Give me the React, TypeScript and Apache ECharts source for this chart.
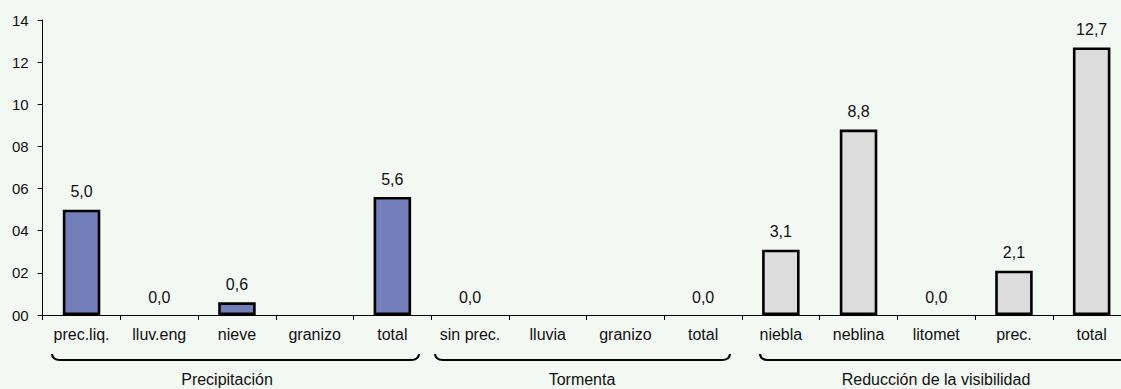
import React, { useEffect, useRef } from "react";
import * as echarts from "echarts";

const categories = [
  "prec.liq.", "lluv.eng", "nieve", "granizo", "total",
  "sin prec.", "lluvia", "granizo", "total",
  "niebla", "neblina", "litomet", "prec.", "total",
];
// null = no value shown
const values: (number | null)[] = [
  5.0, 0.0, 0.6, null, 5.6,
  0.0, null, null, 0.0,
  3.1, 8.8, 0.0, 2.1, 12.7,
];
const groupOfCategory = [0, 0, 0, 0, 0, 1, 1, 1, 1, 2, 2, 2, 2, 2];
const groupNames = ["Precipitación", "Tormenta", "Reducción de la visibilidad"];
const groupColors = ["#737FBB", "#737FBB", "#DCDCDC"];
const yTicks = [0, 2, 4, 6, 8, 10, 12, 14];

const FONT = "'Liberation Sans', Arial, sans-serif";
const TEXT = "#111111";

function brace(x1: number, x2: number, y: number, curl: number) {
  return {
    type: "group",
    silent: true,
    children: [
      {
        type: "bezierCurve",
        shape: { x1: x1, y1: y - curl, cpx1: x1 + 0.5, cpy1: y, x2: x1 + 8, y2: y },
        style: { stroke: "#000", lineWidth: 2.2, fill: "none" },
      },
      {
        type: "line",
        shape: { x1: x1 + 8, y1: y, x2: x2 - 8, y2: y },
        style: { stroke: "#000", lineWidth: 2.2 },
      },
      {
        type: "bezierCurve",
        shape: { x1: x2 - 8, y1: y, cpx1: x2 - 0.5, cpy1: y, x2: x2, y2: y - curl },
        style: { stroke: "#000", lineWidth: 2.2, fill: "none" },
      },
    ],
  };
}

export default function App() {
  const ref = useRef<HTMLDivElement>(null);

  useEffect(() => {
    if (!ref.current) return;
    const chart = echarts.init(ref.current, undefined, { renderer: "svg" });

    const data = values.map((v, i) => {
      const color = groupColors[groupOfCategory[i]];
      if (v === null) return { value: null as any, label: { show: false } };
      return {
        value: v,
        itemStyle: {
          color,
          borderColor: "#000",
          borderWidth: v === 0 ? 0 : 2.6,
        },
      };
    });

    const braceY = 360;
    const braces = [
      { x1: 52, x2: 419, label: groupNames[0], cx: 227 },
      { x1: 435, x2: 730, label: groupNames[1], cx: 582 },
      { x1: 760, x2: 1135, label: groupNames[2], cx: 936 },
    ];

    chart.setOption({
      animation: false,
      backgroundColor: "#F2F8F2",
      textStyle: { fontFamily: FONT },
      grid: {
        left: 42.7,
        top: 20,
        width: 1087.8,
        height: 295,
        containLabel: false,
        outerBoundsMode: "none",
      },
      xAxis: {
        type: "category",
        data: categories,
        boundaryGap: true,
        axisLine: { show: true, lineStyle: { color: "#000", width: 1 } },
        axisTick: { show: true, length: 5, alignWithLabel: false, interval: 0, lineStyle: { color: "#000" } },
        axisLabel: { interval: 0, margin: 11, color: TEXT, fontSize: 16, fontFamily: FONT },
        splitLine: { show: false },
      },
      yAxis: {
        type: "value",
        min: yTicks[0],
        max: yTicks[yTicks.length - 1],
        interval: 2,
        axisLine: { show: true, lineStyle: { color: "#000", width: 1 } },
        axisTick: { show: true, length: 5, lineStyle: { color: "#000" } },
        axisLabel: {
          margin: 14,
          color: TEXT,
          fontSize: 15,
          fontFamily: FONT,
          formatter: (v: number) => String(v).padStart(2, "0"),
        },
        splitLine: { show: false },
      },
      series: [
        {
          type: "bar",
          data,
          barWidth: 37.5,
          label: {
            show: true,
            position: "top",
            distance: 10,
            color: TEXT,
            fontSize: 16,
            fontFamily: FONT,
            formatter: (p: any) =>
              p.value === null || p.value === undefined ? "" : Number(p.value).toFixed(1).replace(".", ","),
          },
        },
      ],
      graphic: [
        ...braces.map((b) => brace(b.x1, b.x2, braceY, 6)),
        ...braces.map((b) => ({
          type: "text",
          silent: true,
          x: b.cx,
          y: 379,
          style: {
            text: b.label,
            fill: TEXT,
            font: `16px ${FONT}`,
            textAlign: "center",
            textVerticalAlign: "middle",
          },
        })),
      ],
    });

    return () => chart.dispose();
  }, []);

  return (
    <div
      ref={ref}
      style={{ position: "absolute", left: 0, top: 0, width: 1121, height: 389 }}
    />
  );
}
